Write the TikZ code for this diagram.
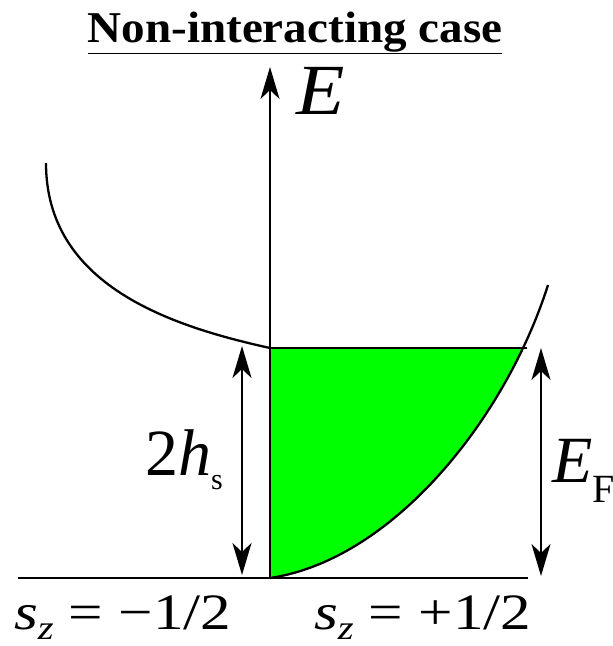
\documentclass[tikz,border=0pt]{standalone}
\usepackage{fontspec}
\setmainfont{Liberation Serif}
\usepackage{xcolor}
\usetikzlibrary{arrows.meta}
\definecolor{bandgreen}{RGB}{0,255,0}

\begin{document}
\begin{tikzpicture}[
    x=1pt, y=-1pt,
    every node/.style={inner sep=0pt, outer sep=0pt},
    curve/.style={line width=2.3pt},
    axis/.style={line width=2.2pt, -{Stealth[length=32pt, width=19pt, inset=9pt]}},
    dbl/.style={line width=2.2pt, {Stealth[length=32pt, width=19pt, inset=9pt]}-{Stealth[length=32pt, width=19pt, inset=9pt]}},
    big/.style={font=\fontsize{66}{70}\selectfont, anchor=base west},
    lbl/.style={font=\fontsize{51}{54}\selectfont, anchor=base west},
    title/.style={font=\fontsize{44}{50}\selectfont\bfseries, anchor=base}
]
\useasboundingbox (0,0) rectangle (613,646);

% =========================================================
% Title
% =========================================================
\node[title] (ttl) at (295,42) {\scalebox{1.07}[1]{\underline{Non-interacting case}}};

% =========================================================
% Points
% =========================================================
\coordinate (org)    at (270,578);
\coordinate (etop)   at (270,67);
\coordinate (lstart) at (46,163);
\coordinate (gap)    at (270,348);
\coordinate (fermi)  at (527,348);
\coordinate (rend)   at (548,285);
\coordinate (base_l) at (18,578);
\coordinate (base_r) at (528,578);

% =========================================================
% Occupied s_z = +1/2 states
% =========================================================
\begin{scope}
  \clip (org) .. controls (392,560) and (505,420) .. (rend) -- (270,285) -- cycle;
  \fill[bandgreen] (gap) rectangle (560,578);
\end{scope}

% =========================================================
% Bands and axes
% =========================================================
\draw[curve] (lstart) .. controls (46,285) and (170,326) .. (gap);
\draw[curve] (org) .. controls (392,560) and (505,420) .. (rend);
\draw[curve] (gap) -- (fermi);
\draw[curve] (base_l) -- (base_r);
\draw[axis] (org) -- (etop);
\node[big, font=\fontsize{72}{76}\selectfont] (elab) at (296,114)
   {\scalebox{1.1}[1]{\textit{E}}};

% =========================================================
% Splitting and Fermi energy
% =========================================================
\coordinate (hs_top) at (242,346);
\coordinate (hs_bot) at (242,575);
\draw[dbl] (hs_top) -- (hs_bot);
\node[big] (hslab) at (145,475)
   {2\textit{h}\raisebox{-14pt}{\fontsize{30}{32}\selectfont s}};

\coordinate (ef_top) at (541,348);
\coordinate (ef_bot) at (541,576);
\draw[dbl] (ef_top) -- (ef_bot);
\node[big] (eflab) at (552,482)
   {\textit{E}\raisebox{-20pt}{\fontsize{40}{42}\selectfont F}};

% =========================================================
% Spin labels
% =========================================================
\node[lbl] (szm) at (14,629)
   {\scalebox{1.2}[1]{\textit{s}\raisebox{-10pt}{\fontsize{34}{36}\selectfont\textit{z}} = −1/2}};
\node[lbl] (szp) at (314,629)
   {\scalebox{1.2}[1]{\textit{s}\raisebox{-10pt}{\fontsize{34}{36}\selectfont\textit{z}} = +1/2}};

\end{tikzpicture}
\end{document}
